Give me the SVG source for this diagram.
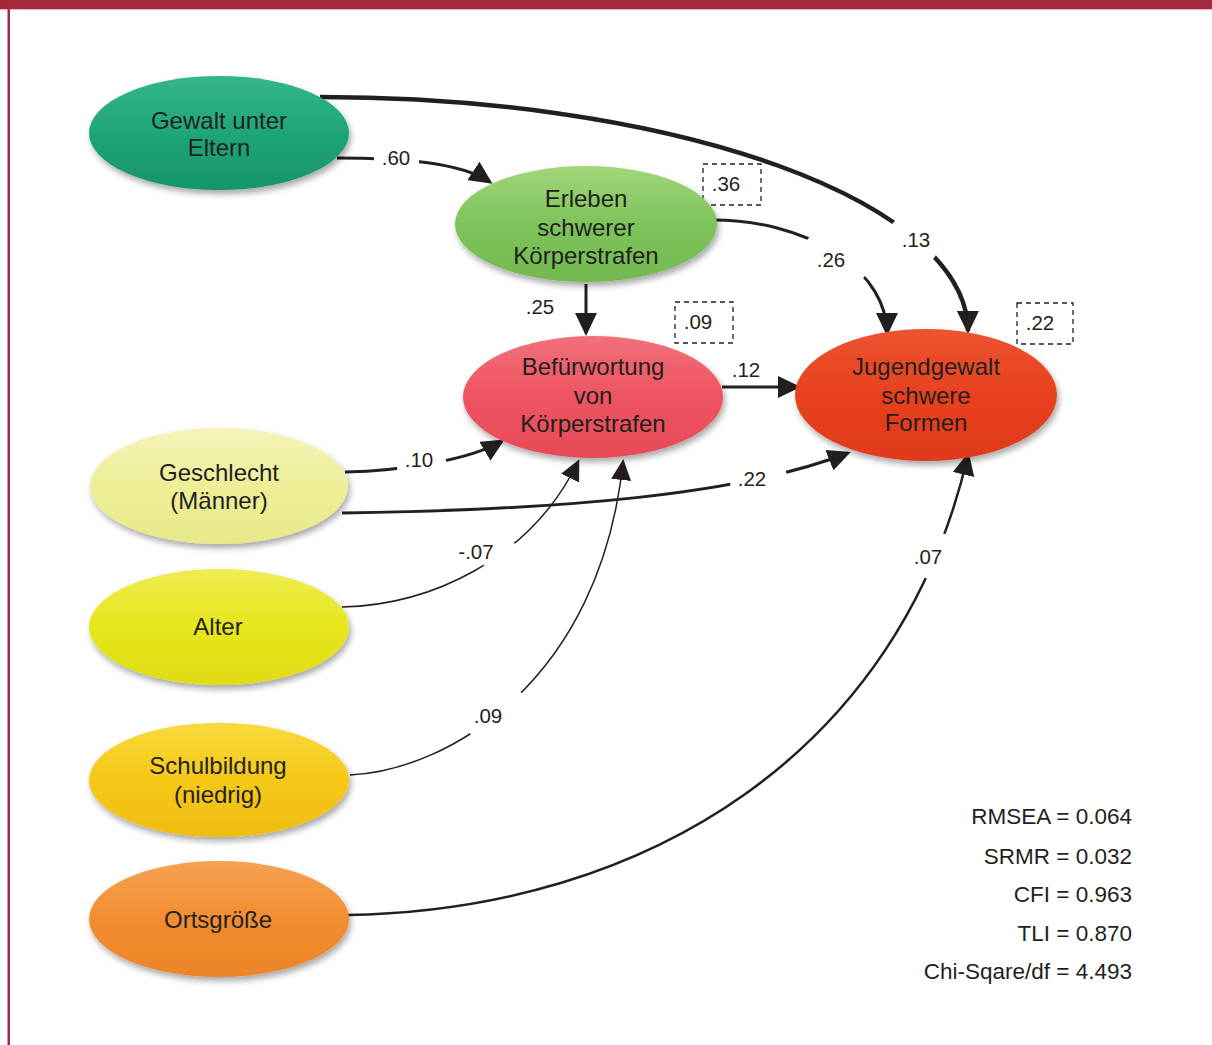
<svg xmlns="http://www.w3.org/2000/svg" width="1212" height="1045" viewBox="0 0 1212 1045">
<style>
.lbl{font-family:"Liberation Sans",Arial,sans-serif;font-size:24px;fill:#231f20;text-anchor:middle}
.coef{font-family:"Liberation Sans",Arial,sans-serif;font-size:20.5px;fill:#231f20;text-anchor:middle}
.fit{font-family:"Liberation Sans",Arial,sans-serif;font-size:22.5px;fill:#231f20;text-anchor:end}
.box{fill:none;stroke:#231f20;stroke-width:1.3;stroke-dasharray:5 4}
.c{fill:none;stroke:#231f20}
</style>
<defs>
<filter id="sh" x="-20%" y="-20%" width="140%" height="150%">
<feDropShadow dx="2" dy="4" stdDeviation="3" flood-color="#000" flood-opacity="0.35"/>
</filter>
<linearGradient id="g1" x1="0" y1="0" x2="0" y2="1"><stop offset="0" stop-color="#34b688"/><stop offset="0.5" stop-color="#1fa57a"/><stop offset="1" stop-color="#17946b"/></linearGradient>
<linearGradient id="g2" x1="0" y1="0" x2="0" y2="1"><stop offset="0" stop-color="#a3d67a"/><stop offset="0.5" stop-color="#7dc35b"/><stop offset="1" stop-color="#72b94f"/></linearGradient>
<linearGradient id="g3" x1="0" y1="0" x2="0" y2="1"><stop offset="0" stop-color="#f1707a"/><stop offset="0.5" stop-color="#ee5461"/><stop offset="1" stop-color="#e84a57"/></linearGradient>
<linearGradient id="g4" x1="0" y1="0" x2="0" y2="1"><stop offset="0" stop-color="#ec5430"/><stop offset="0.5" stop-color="#e8411f"/><stop offset="1" stop-color="#e0391a"/></linearGradient>
<linearGradient id="g5" x1="0" y1="0" x2="0" y2="1"><stop offset="0" stop-color="#f4f4bc"/><stop offset="0.5" stop-color="#eeee98"/><stop offset="1" stop-color="#e8e88a"/></linearGradient>
<linearGradient id="g6" x1="0" y1="0" x2="0" y2="1"><stop offset="0" stop-color="#eeed50"/><stop offset="0.5" stop-color="#e7e61c"/><stop offset="1" stop-color="#dfdc14"/></linearGradient>
<linearGradient id="g7" x1="0" y1="0" x2="0" y2="1"><stop offset="0" stop-color="#f7da3c"/><stop offset="0.5" stop-color="#f5c816"/><stop offset="1" stop-color="#efbd10"/></linearGradient>
<linearGradient id="g8" x1="0" y1="0" x2="0" y2="1"><stop offset="0" stop-color="#f5a252"/><stop offset="0.5" stop-color="#f28d30"/><stop offset="1" stop-color="#ec8428"/></linearGradient>
<marker id="ah" markerUnits="userSpaceOnUse" markerWidth="24" markerHeight="22" refX="20" refY="11" orient="auto">
<path d="M0,0 L23,11 L0,22 z" fill="#231f20"/>
</marker>
<marker id="ahs" markerUnits="userSpaceOnUse" markerWidth="22" markerHeight="20" refX="18" refY="10" orient="auto">
<path d="M0,0 L21,10 L0,20 z" fill="#231f20"/>
</marker>
<mask id="gaps" maskUnits="userSpaceOnUse" x="0" y="0" width="1212" height="1045">
<rect x="0" y="0" width="1212" height="1045" fill="#fff"/>
<rect x="374" y="145" width="45" height="28" fill="#000"/>
<circle cx="913" cy="241" r="27" fill="#000"/>
<circle cx="836" cy="258" r="34" fill="#000"/>
<circle cx="422" cy="467" r="25" fill="#000"/>
<circle cx="759" cy="482" r="29" fill="#000"/>
<circle cx="503" cy="560" r="20" fill="#000"/>
<circle cx="498" cy="716" r="33" fill="#000"/>
<circle cx="935" cy="556" r="24" fill="#000"/>
</mask>
</defs>

<rect x="0" y="0" width="1212" height="1045" fill="#fff"/>
<rect x="0" y="0" width="1212" height="9" fill="#a3293d"/>
<rect x="0" y="9" width="1212" height="1.2" fill="#f2b6c2"/>
<rect x="7.5" y="0" width="2.5" height="1045" fill="#a3293d"/>

<g id="connectors" mask="url(#gaps)">
<path class="c" stroke-width="4.5" d="M 320 97 A 648 234.5 0 0 1 968 331" marker-end="url(#ah)"/>
<path class="c" stroke-width="3" d="M 713 220 A 174 113 0 0 1 887 333" marker-end="url(#ah)"/>
<path class="c" stroke-width="3" d="M 337 158 C 400 158, 460 162, 490 182" marker-end="url(#ah)"/>
<path class="c" stroke-width="3" d="M 586 284 L 586 333" marker-end="url(#ah)"/>
<path class="c" stroke-width="3" d="M 722 387 L 798 387" marker-end="url(#ah)"/>
<path class="c" stroke-width="3" d="M 345 472 C 400 471, 470 460, 502 441" marker-end="url(#ah)"/>
<path class="c" stroke-width="3" d="M 342 513 C 560 510, 740 495, 848 453" marker-end="url(#ah)"/>
<path class="c" stroke-width="1.5" d="M 342 607 C 430 605, 530 560, 578 462" marker-end="url(#ahs)"/>
<path class="c" stroke-width="1.5" d="M 350 775 C 450 770, 600 680, 623 462" marker-end="url(#ahs)"/>
<path class="c" stroke-width="2.5" d="M 347 915 C 650 910, 900 750, 968 455" marker-end="url(#ah)"/>
</g>

<g id="coefficients">
<text class="coef" x="396" y="165">.60</text>
<text class="coef" x="916" y="247">.13</text>
<text class="coef" x="831" y="267">.26</text>
<text class="coef" x="540" y="314">.25</text>
<text class="coef" x="746" y="377">.12</text>
<text class="coef" x="419" y="467">.10</text>
<text class="coef" x="752" y="486">.22</text>
<text class="coef" x="476" y="559">-.07</text>
<text class="coef" x="488" y="723">.09</text>
<text class="coef" x="928" y="564">.07</text>
</g>

<g id="r2-erleben">
<rect class="box" x="703" y="164" width="58" height="41"/>
<text class="coef" x="726" y="191">.36</text>
</g>
<g id="r2-befuerwortung">
<rect class="box" x="675" y="302" width="58" height="41"/>
<text class="coef" x="698" y="329">.09</text>
</g>
<g id="r2-jugendgewalt">
<rect class="box" x="1017" y="303" width="56" height="41"/>
<text class="coef" x="1040" y="330">.22</text>
</g>

<g id="gewalt">
<ellipse cx="219" cy="133" rx="130" ry="57" fill="url(#g1)" filter="url(#sh)"/>
<text class="lbl" x="219" y="129">Gewalt unter</text>
<text class="lbl" x="219" y="156">Eltern</text>
</g>
<g id="erleben">
<ellipse cx="586" cy="224" rx="131" ry="58" fill="url(#g2)" filter="url(#sh)"/>
<text class="lbl" x="586" y="207">Erleben</text>
<text class="lbl" x="586" y="236">schwerer</text>
<text class="lbl" x="586" y="264">Körperstrafen</text>
</g>
<g id="befuerwortung">
<ellipse cx="593" cy="397" rx="130" ry="61" fill="url(#g3)" filter="url(#sh)"/>
<text class="lbl" x="593" y="375">Befürwortung</text>
<text class="lbl" x="593" y="404">von</text>
<text class="lbl" x="593" y="432">Körperstrafen</text>
</g>
<g id="jugendgewalt">
<ellipse cx="926" cy="395" rx="131" ry="66" fill="url(#g4)" filter="url(#sh)"/>
<text class="lbl" x="926" y="375">Jugendgewalt</text>
<text class="lbl" x="926" y="404">schwere</text>
<text class="lbl" x="926" y="431">Formen</text>
</g>
<g id="geschlecht">
<ellipse cx="219" cy="486" rx="129" ry="58" fill="url(#g5)" filter="url(#sh)"/>
<text class="lbl" x="219" y="481">Geschlecht</text>
<text class="lbl" x="219" y="509">(Männer)</text>
</g>
<g id="alter">
<ellipse cx="219" cy="627" rx="130" ry="58" fill="url(#g6)" filter="url(#sh)"/>
<text class="lbl" x="218" y="635">Alter</text>
</g>
<g id="schulbildung">
<ellipse cx="219" cy="780" rx="130" ry="57" fill="url(#g7)" filter="url(#sh)"/>
<text class="lbl" x="218" y="774">Schulbildung</text>
<text class="lbl" x="218" y="803">(niedrig)</text>
</g>
<g id="ortsgroesse">
<ellipse cx="219" cy="919" rx="130" ry="58" fill="url(#g8)" filter="url(#sh)"/>
<text class="lbl" x="218" y="928">Ortsgröße</text>
</g>

<g id="fit">
<text class="fit" x="1132" y="824">RMSEA = 0.064</text>
<text class="fit" x="1132" y="864">SRMR = 0.032</text>
<text class="fit" x="1132" y="902">CFI = 0.963</text>
<text class="fit" x="1132" y="941">TLI = 0.870</text>
<text class="fit" x="1132" y="979">Chi-Sqare/df = 4.493</text>
</g>
</svg>
